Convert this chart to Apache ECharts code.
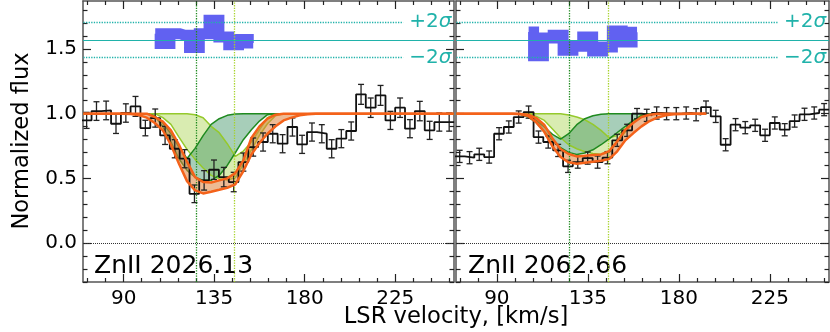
<!DOCTYPE html>
<html>
<head>
<meta charset="utf-8">
<script src="https://cdn.jsdelivr.net/npm/echarts@6/dist/echarts.min.js"></script>
<style>
  html, body { margin: 0; padding: 0; background: #fff; }
  #chart { width: 830px; height: 332px; }
</style>
</head>
<body>
<div id="chart"></div>
<script>
// velocity bins of the spectrum (km/s)
const vel = [71.6, 76.5, 81.3, 86.2, 91.1, 95.9, 100.8, 105.7, 110.6, 115.4, 120.3, 125.2, 130.0, 134.9,
  139.8, 144.7, 149.5, 154.4, 159.3, 164.1, 169.0, 173.9, 178.7, 183.6, 188.5, 193.4, 198.2, 203.1,
  208.0, 212.8, 217.7, 222.6, 227.4, 232.3, 237.2, 242.1, 246.9, 251.8]

// ZnII 2026.13
const flux1 = [0.948, 1.020, 1.025, 0.922, 1.005, 1.056, 0.889, 0.966, 0.832, 0.729, 0.652, 0.381, 0.485, 0.567,
  0.510, 0.472, 0.626, 0.742, 0.781, 0.845, 0.768, 0.897, 0.763, 0.858, 0.845, 0.729, 0.807, 0.866,
  1.149, 1.046, 1.141, 0.948, 1.046, 0.884, 1.020, 0.871, 0.935, 0.935]
const err1 = [0.062, 0.072, 0.072, 0.075, 0.071, 0.077, 0.060, 0.070, 0.070, 0.070, 0.070, 0.068, 0.075, 0.075,
  0.075, 0.075, 0.070, 0.070, 0.070, 0.070, 0.070, 0.070, 0.070, 0.070, 0.070, 0.070, 0.070, 0.070,
  0.077, 0.075, 0.077, 0.070, 0.075, 0.070, 0.075, 0.070, 0.070, 0.070]
// ZnII 2062.66
const flux2 = [0.670, 0.660, 0.686, 0.665, 0.845, 0.897, 0.974, 1.012, 0.819, 0.781, 0.716, 0.593, 0.626, 0.657,
  0.626, 0.660, 0.794, 0.871, 1.000, 0.987, 1.005, 1.000, 1.000, 1.005, 0.992, 1.051, 0.979, 0.760,
  0.915, 0.892, 0.910, 0.833, 0.928, 0.876, 0.943, 0.995, 1.005, 1.031]
const err2 = [0.047, 0.047, 0.047, 0.047, 0.047, 0.047, 0.047, 0.047, 0.047, 0.047, 0.047, 0.047, 0.047, 0.047,
  0.047, 0.047, 0.047, 0.047, 0.040, 0.047, 0.047, 0.047, 0.047, 0.047, 0.047, 0.047, 0.047, 0.047,
  0.047, 0.047, 0.047, 0.047, 0.047, 0.047, 0.047, 0.047, 0.047, 0.047]

// residuals (offset around the 1.57 level), bins 7..17 and 7..18
const resid1 = [1.618, 1.541, 1.618, 1.605, 1.510, 1.618, 1.721, 1.592, 1.533, 1.572, 1.546]
const resid2 = [1.631, 1.448, 1.584, 1.605, 1.489, 1.520, 1.592, 1.484, 1.515, 1.638, 1.553, 1.628]
const residLevel = 1.572
const residPlus = 1.706
const residMinus = 1.435

// component centres (km/s)
const compVel = [126, 145]

// model grid
const mvel1 = [70, 89.5, 93.5, 97.5, 101.5, 105.5, 109.5, 113.5, 117.5, 121.5, 125.5, 129.5, 133.5, 137.5,
  141.5, 145.5, 149.5, 153.5, 157.5, 161.5, 165.5, 169.5, 173.5, 177.5, 181.5, 185.5, 189.5, 193.5, 254]
const mvel2 = [70, 89.5, 93.5, 97.5, 101.5, 105.5, 109.5, 113.5, 117.5, 121.5, 125.5, 129.5, 133.5, 137.5,
  141.5, 145.5, 149.5, 153.5, 157.5, 161.5, 165.5, 169.5, 173.5, 177.5, 181.5, 185.5, 189.5, 193.5]

// total model band, panel 1
const totOut1 = [1, 1, 0.997, 0.989, 0.969, 0.928, 0.871, 0.760, 0.613, 0.479, 0.407, 0.384, 0.397, 0.412,
  0.428, 0.454, 0.557, 0.685, 0.773, 0.845, 0.902, 0.948, 0.969, 0.987, 0.995, 1, 1, 1, 1]
const totIn1 = [1, 1, 1, 1, 1, 0.974, 0.938, 0.871, 0.760, 0.629, 0.510, 0.472, 0.469, 0.485,
  0.500, 0.541, 0.639, 0.812, 0.902, 0.961, 0.992, 1, 1, 1, 1, 1, 1, 1, 1]
// component bands, panel 1
const c1Hi1 = [1, 1, 1, 1, 1, 0.979, 0.928, 0.845, 0.742, 0.654, 0.732, 0.830, 0.917, 0.961,
  0.987, 0.997, 1, 1, 1, 1, 1, 1, 1, 1, 1, 1, 1, 1, 1]
const c1Lo1 = [1, 1, 1, 1, 1, 0.984, 0.897, 0.781, 0.652, 0.562, 0.510, 0.485, 0.485, 0.523,
  0.600, 0.698, 0.799, 0.876, 0.943, 0.992, 1, 1, 1, 1, 1, 1, 1, 1, 1]
const c2Hi1 = [1, 1, 1, 1, 1, 1, 1, 1, 1, 1, 0.992, 0.969, 0.902, 0.853,
  0.768, 0.670, 0.711, 0.781, 0.876, 0.969, 0.997, 1, 1, 1, 1, 1, 1, 1, 1]
const c2Lo1 = [1, 1, 1, 1, 1, 1, 0.969, 0.917, 0.819, 0.724, 0.647, 0.580, 0.523, 0.497,
  0.487, 0.505, 0.608, 0.721, 0.832, 0.922, 0.984, 1, 1, 1, 1, 1, 1, 1, 1]

// total model band, panel 2
const totOut2 = [1, 1, 1, 0.999, 0.997, 0.982, 0.933, 0.858, 0.747, 0.665, 0.624, 0.613, 0.621, 0.629,
  0.636, 0.649, 0.709, 0.794, 0.850, 0.902, 0.943, 0.971, 0.987, 0.995, 0.997, 1, 1, 1]
const totIn2 = [1, 1, 1, 1, 0.997, 0.992, 0.966, 0.912, 0.809, 0.727, 0.688, 0.670, 0.675, 0.680,
  0.685, 0.711, 0.786, 0.876, 0.930, 0.974, 0.992, 1, 1, 1, 1, 1, 1, 1]
// component bands, panel 2
const c1Hi2 = [1, 1, 1, 1, 0.997, 0.984, 0.948, 0.897, 0.840, 0.804, 0.845, 0.915, 0.961, 0.984,
  0.995, 1, 1, 1, 1, 1, 1, 1, 1, 1, 1, 1, 1, 1]
const c1Lo2 = [1, 1, 1, 1, 0.995, 0.974, 0.930, 0.860, 0.790, 0.737, 0.701, 0.685, 0.696, 0.721,
  0.760, 0.806, 0.853, 0.902, 0.948, 0.984, 1, 1, 1, 1, 1, 1, 1, 1]
const c2Hi2 = [1, 1, 1, 1, 1, 1, 1, 1, 1, 1, 0.989, 0.974, 0.953, 0.917,
  0.871, 0.814, 0.832, 0.884, 0.948, 0.989, 1, 1, 1, 1, 1, 1, 1, 1]
const c2Lo2 = [1, 1, 1, 1, 1, 1, 0.979, 0.948, 0.881, 0.814, 0.760, 0.729, 0.706, 0.693,
  0.685, 0.701, 0.781, 0.858, 0.928, 0.982, 1, 1, 1, 1, 1, 1, 1, 1]

// axis ticks
const xMajor = [90, 135, 180, 225]
const xMinor = [72, 81, 99, 108, 117, 126, 144, 153, 162, 171, 189, 198, 207, 216, 234, 243, 252]
const yMajor = [0, 0.5, 1.0, 1.5]
const yMinor = [-0.3, -0.2, -0.1, 0.1, 0.2, 0.3, 0.4, 0.6, 0.7, 0.8, 0.9, 1.1, 1.2, 1.3, 1.4, 1.6, 1.7, 1.8]

const XMIN = 69.8
const XMAX = 254.2
const YMIN = -0.3
const YMAX = 1.87
const FONT = 'DejaVu Sans'
const SEA = '#20b2aa'
const DKGREEN = '#1f8a1f'
const YLGREEN = '#95c92c'
const ORANGE = '#f4621a'

const chart = echarts.init(document.getElementById('chart'))

const xAxes = []
const yAxes = []
const makeAxes = (gi, yLabels) => {
  const xBase = { gridIndex: gi, type: 'value', min: XMIN, max: XMAX, splitLine: { show: false } }
  const yBase = { gridIndex: gi, type: 'value', min: YMIN, max: YMAX, splitLine: { show: false } }
  const line = { show: true, onZero: false, lineStyle: { color: '#555', width: 1.5 } }
  const noLine = { show: false, onZero: false }
  const tick = (vals, len) => ({ show: true, inside: true, length: len, customValues: vals, lineStyle: { color: '#222', width: 1.2 } })
  xAxes.push(
    { ...xBase, position: 'bottom', axisLine: line, axisTick: tick(xMajor, 8),
      axisLabel: { customValues: xMajor, fontSize: 20, color: '#000', margin: 7, fontFamily: FONT } },
    { ...xBase, position: 'bottom', axisLine: noLine, axisTick: tick(xMinor, 4), axisLabel: { show: false } },
    { ...xBase, position: 'top', axisLine: line, axisTick: tick(xMajor, 8), axisLabel: { show: false } },
    { ...xBase, position: 'top', axisLine: noLine, axisTick: tick(xMinor, 4), axisLabel: { show: false } }
  )
  yAxes.push(
    { ...yBase, position: 'left', axisLine: line, axisTick: tick(yMajor, 8),
      axisLabel: { show: yLabels, customValues: yMajor, fontSize: 20, color: '#000', margin: 6, fontFamily: FONT,
        formatter: (v) => v.toFixed(1) } },
    { ...yBase, position: 'left', axisLine: noLine, axisTick: tick(yMinor, 4.5), axisLabel: { show: false } },
    { ...yBase, position: 'right', axisLine: line, axisTick: tick(yMajor, 8), axisLabel: { show: false } },
    { ...yBase, position: 'right', axisLine: noLine, axisTick: tick(yMinor, 4.5), axisLabel: { show: false } }
  )
}
makeAxes(0, true)
makeAxes(1, false)

// filled region between two curves, drawn through the axes
const band = (gi, xs, hi, lo, color, z) => ({
  type: 'custom',
  xAxisIndex: gi * 4,
  yAxisIndex: gi * 4,
  z: z,
  silent: true,
  clip: true,
  data: [0],
  renderItem: (params, api) => {
    const pts = []
    xs.forEach((x, i) => pts.push(api.coord([x, hi[i]])))
    for (let i = xs.length - 1; i >= 0; i--) pts.push(api.coord([xs[i], lo[i]]))
    return { type: 'polygon', shape: { points: pts }, style: { fill: color } }
  }
})

const curve = (gi, xs, ys, color, width, z) => ({
  type: 'line',
  xAxisIndex: gi * 4,
  yAxisIndex: gi * 4,
  z: z,
  silent: true,
  showSymbol: false,
  data: xs.map((x, i) => [x, ys[i]]),
  lineStyle: { color: color, width: width }
})

const stepData = (xs, ys) => {
  const half = (xs[1] - xs[0]) / 2
  const d = xs.map((x, i) => [x - half, ys[i]])
  d.push([xs[xs.length - 1] + half, ys[ys.length - 1]])
  return d
}

const errorBars = (gi, xs, ys, es) => ({
  type: 'custom',
  xAxisIndex: gi * 4,
  yAxisIndex: gi * 4,
  z: 4,
  silent: true,
  data: xs.map((x, i) => [x, ys[i] - es[i], ys[i] + es[i]]),
  encode: { x: 0, y: [1, 2] },
  renderItem: (params, api) => {
    const lo = api.coord([api.value(0), api.value(1)])
    const hi = api.coord([api.value(0), api.value(2)])
    const c = 3
    const st = { stroke: '#222', lineWidth: 1.3 }
    return {
      type: 'group',
      children: [
        { type: 'line', shape: { x1: lo[0], y1: lo[1], x2: hi[0], y2: hi[1] }, style: st },
        { type: 'line', shape: { x1: lo[0] - c, y1: lo[1], x2: lo[0] + c, y2: lo[1] }, style: st },
        { type: 'line', shape: { x1: hi[0] - c, y1: hi[1], x2: hi[0] + c, y2: hi[1] }, style: st }
      ]
    }
  }
})

const sigmaLabel = (txt) => ({
  show: true,
  position: 'end',
  distance: 6,
  formatter: txt + '2{i|σ}',
  color: SEA,
  fontSize: 20,
  fontFamily: FONT,
  rich: { i: { fontStyle: 'italic', fontSize: 20, color: SEA, fontFamily: FONT } }
})

const panelSeries = (gi, flux, err, resid, xs, totOut, totIn, c1Hi, c1Lo, c2Hi, c2Lo) => {
  const rv = vel.slice(7, 7 + resid.length)
  return [
    band(gi, xs, c2Hi, c2Lo, 'rgba(154,205,50,0.38)', 1),
    band(gi, xs, c1Hi, c1Lo, 'rgba(46,139,87,0.42)', 1),
    curve(gi, xs, c2Hi, YLGREEN, 1.5, 2),
    curve(gi, xs, c2Lo, YLGREEN, 1.5, 2),
    curve(gi, xs, c1Hi, DKGREEN, 1.5, 2),
    curve(gi, xs, c1Lo, DKGREEN, 1.5, 2),
    band(gi, xs, totIn, totOut, 'rgba(222,130,60,0.55)', 3),
    {
      type: 'line',
      xAxisIndex: gi * 4,
      yAxisIndex: gi * 4,
      z: 4,
      silent: true,
      step: 'end',
      showSymbol: false,
      data: stepData(vel, flux),
      lineStyle: { color: '#111', width: 1.8 },
      markLine: {
        silent: true,
        symbol: 'none',
        label: { show: false },
        data: [
          { xAxis: compVel[0], lineStyle: { color: DKGREEN, type: 'dotted', width: 1.3 } },
          { xAxis: compVel[1], lineStyle: { color: '#a6d22a', type: 'dotted', width: 1.3 } },
          { yAxis: 0, lineStyle: { color: '#333', type: 'dotted', width: 1 } }
        ]
      }
    },
    errorBars(gi, vel, flux, err),
    curve(gi, xs, totOut, ORANGE, 2.5, 5),
    curve(gi, xs, totIn, ORANGE, 2.5, 5),
    {
      type: 'line',
      xAxisIndex: gi * 4,
      yAxisIndex: gi * 4,
      z: 4,
      silent: true,
      step: 'middle',
      showSymbol: false,
      data: rv.map((x, i) => [x, resid[i]]),
      lineStyle: { color: 'rgba(80,80,240,0.9)', width: 11, join: 'miter', cap: 'butt' },
      markLine: {
        silent: true,
        symbol: 'none',
        data: [
          { yAxis: residLevel, label: { show: false }, lineStyle: { color: SEA, type: 'solid', width: 1 } },
          [{ coord: [70, residPlus], lineStyle: { color: SEA, type: 'dotted', width: 1.3 } },
            { coord: [229, residPlus], label: sigmaLabel('+') }],
          [{ coord: [70, residMinus], lineStyle: { color: SEA, type: 'dotted', width: 1.3 } },
            { coord: [229, residMinus], label: sigmaLabel('\u2212') }]
        ]
      }
    }
  ]
}

const option = {
  animation: false,
  textStyle: { fontFamily: FONT },
  grid: [
    { left: 83, top: 1, width: 371, height: 281 },
    { left: 456, top: 1, width: 373, height: 281 }
  ],
  xAxis: xAxes,
  yAxis: yAxes,
  graphic: [
    { type: 'text', x: 94, y: 266, style: { text: 'ZnII 2026.13', font: '25px "DejaVu Sans"', fill: '#000', verticalAlign: 'middle' } },
    { type: 'text', x: 468, y: 266, style: { text: 'ZnII 2062.66', font: '25px "DejaVu Sans"', fill: '#000', verticalAlign: 'middle' } },
    { type: 'text', x: 456, y: 317, style: { text: 'LSR velocity, [km/s]', font: '22.6px "DejaVu Sans"', fill: '#000', align: 'center', verticalAlign: 'middle' } },
    { type: 'text', x: 22, y: 141, rotation: Math.PI / 2, style: { text: 'Normalized flux', font: '22.6px "DejaVu Sans"', fill: '#000', align: 'center', verticalAlign: 'middle' } }
  ],
  series: [
    ...panelSeries(0, flux1, err1, resid1, mvel1, totOut1, totIn1, c1Hi1, c1Lo1, c2Hi1, c2Lo1),
    ...panelSeries(1, flux2, err2, resid2, mvel2, totOut2, totIn2, c1Hi2, c1Lo2, c2Hi2, c2Lo2)
  ]
}
chart.setOption(option)
</script>
</body>
</html>
